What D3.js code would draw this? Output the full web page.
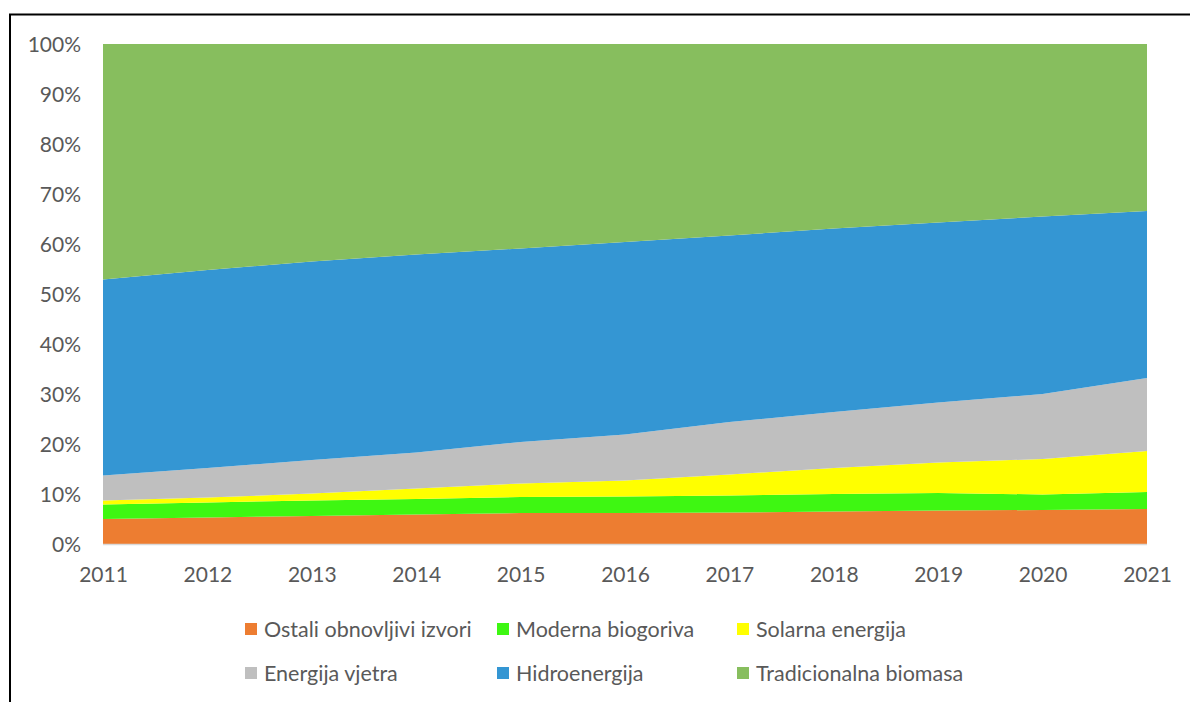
<!DOCTYPE html>
<html><head><meta charset="utf-8">
<script src="https://cdn.jsdelivr.net/npm/d3@7"></script>
<style>body{margin:0;background:#fff;} svg{display:block;}</style>
</head><body>
<svg id="c" width="1190" height="702"></svg>
<script>
const years = [2011,2012,2013,2014,2015,2016,2017,2018,2019,2020,2021];
const seriesNames = ["Ostali obnovljivi izvori","Moderna biogoriva","Solarna energija","Energija vjetra","Hidroenergija","Tradicionalna biomasa"];
const ostali   = [5.0,5.3,5.6,5.9,6.2,6.2,6.3,6.5,6.7,6.8,7.0];
const moderna  = [2.9,3.0,3.1,3.1,3.2,3.3,3.4,3.5,3.5,3.1,3.4];
const solarna  = [0.8,1.0,1.4,2.1,2.7,3.2,4.2,5.2,6.1,7.1,8.2];
const vjetar   = [5.0,5.9,6.7,7.2,8.3,9.2,10.5,11.2,12.0,13.0,14.6];
const hidro    = [39.2,39.6,39.7,39.6,38.7,38.5,37.3,36.7,36.0,35.5,33.4];
const tradic   = [47.1,45.2,43.5,42.1,40.9,39.6,38.3,36.9,35.7,34.5,33.4];
const yTicks = [0,0.1,0.2,0.3,0.4,0.5,0.6,0.7,0.8,0.9,1.0];
const colors = ["#ED7D31","#3EF712","#FFFF00","#BFBFBF","#3496D3","#87BE5E"];

const allSeries = [ostali,moderna,solarna,vjetar,hidro,tradic];
const rows = years.map((y,i)=>{
  const tot = allSeries.reduce((s,a)=>s+a[i],0);
  const r = {year:y};
  seriesNames.forEach((n,k)=>r[n]=allSeries[k][i]/tot);
  return r;
});

const svg = d3.select("#c");
const font = "Lato, 'Open Sans', sans-serif";
const textCol = "#595959";

svg.append("rect").attr("x",10).attr("y",14.5).attr("width",1200).attr("height",720)
  .attr("fill","none").attr("stroke","#000").attr("stroke-width",2);

const x = d3.scaleLinear().domain([2011,2021]).range([103,1147]);
const y = d3.scaleLinear().domain([0,1]).range([544,44]);

const stack = d3.stack().keys(seriesNames);
const layers = stack(rows);
const area = d3.area().x(d=>x(d.data.year)).y0(d=>y(d[0])).y1(d=>y(d[1]));

svg.append("g").selectAll("path").data(layers).join("path")
  .attr("d",area).attr("fill",(d,i)=>colors[i]);

svg.append("line").attr("x1",103).attr("x2",1147).attr("y1",544.5).attr("y2",544.5)
  .attr("stroke","#d9d9d9").attr("stroke-width",1.5);

const yAxis = d3.axisLeft(y).tickValues(yTicks).tickFormat(d3.format(".0%")).tickSize(0).tickPadding(0);
const gy = svg.append("g").attr("transform","translate(81,0)").call(yAxis);
gy.select(".domain").remove();
gy.selectAll("text").attr("font-family",font).attr("font-size",21).attr("fill",textCol).attr("dy","0.35em");

const xAxis = d3.axisBottom(x).tickValues(years).tickFormat(d3.format("d")).tickSize(0).tickPadding(0);
const gx = svg.append("g").attr("transform","translate(0,567)").call(xAxis);
gx.select(".domain").remove();
gx.selectAll("text").attr("font-family",font).attr("font-size",21).attr("fill",textCol).attr("dy","0.71em");

const legPos = [[245,629],[497,629],[737,629],[245,673],[497,673],[737,673]];
const leg = svg.append("g");
seriesNames.forEach((n,i)=>{
  const [lx,ly] = legPos[i];
  leg.append("rect").attr("x",lx).attr("y",ly-6).attr("width",12).attr("height",12).attr("fill",colors[i]);
  leg.append("text").attr("x",lx+19).attr("y",ly).attr("dy","0.35em")
    .attr("font-family",font).attr("font-size",21.5).attr("fill",textCol).text(n);
});
</script>
</body></html>
